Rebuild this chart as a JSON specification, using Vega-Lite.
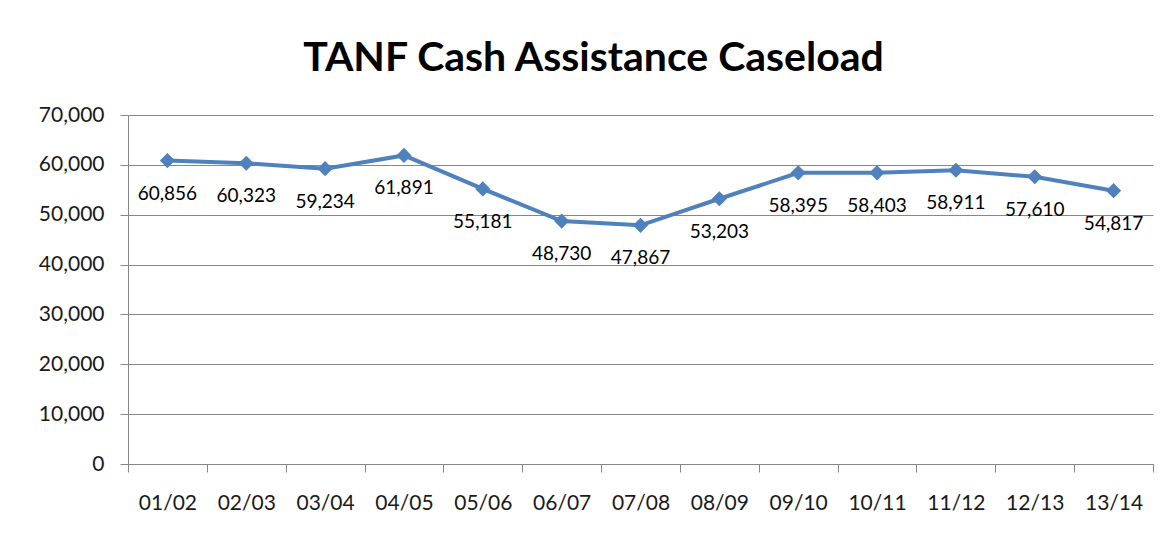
{
  "$schema": "https://vega.github.io/schema/vega-lite/v6.json",
  "width": 1025,
  "height": 349,
  "autosize": {"type": "none"},
  "padding": {"left": 128, "top": 115, "right": 20, "bottom": 75},
  "background": "white",
  "title": {
    "text": "TANF Cash Assistance Caseload",
    "font": "Lato",
    "fontSize": 41,
    "fontWeight": "bold",
    "color": "black",
    "anchor": "middle",
    "dx": -47,
    "offset": 24
  },
  "config": {
    "view": {"stroke": null},
    "font": "Lato"
  },
  "data": {
    "values": [
      {"year": "01/02", "caseload": 60856},
      {"year": "02/03", "caseload": 60323},
      {"year": "03/04", "caseload": 59234},
      {"year": "04/05", "caseload": 61891},
      {"year": "05/06", "caseload": 55181},
      {"year": "06/07", "caseload": 48730},
      {"year": "07/08", "caseload": 47867},
      {"year": "08/09", "caseload": 53203},
      {"year": "09/10", "caseload": 58395},
      {"year": "10/11", "caseload": 58403},
      {"year": "11/12", "caseload": 58911},
      {"year": "12/13", "caseload": 57610},
      {"year": "13/14", "caseload": 54817}
    ]
  },
  "encoding": {
    "x": {
      "field": "year",
      "type": "ordinal",
      "sort": null,
      "scale": {"paddingInner": 0, "paddingOuter": 0},
      "axis": {
        "title": null,
        "labelAngle": 0,
        "labelFont": "Lato",
        "labelFontSize": 21,
        "labelColor": "#1a1a1a",
        "labelPadding": 20,
        "tickBand": "extent",
        "tickSize": 8,
        "tickColor": "#868686",
        "domainColor": "#868686",
        "grid": false
      }
    },
    "y": {
      "field": "caseload",
      "type": "quantitative",
      "scale": {"domain": [0, 70000], "nice": false},
      "axis": {
        "title": null,
        "values": [0, 10000, 20000, 30000, 40000, 50000, 60000, 70000],
        "format": ",d",
        "labelFont": "Lato",
        "labelFontSize": 21,
        "labelColor": "#1a1a1a",
        "labelPadding": 16,
        "tickSize": 8,
        "tickColor": "#868686",
        "domainColor": "#868686",
        "gridColor": "#868686",
        "gridOpacity": 1
      }
    }
  },
  "layer": [
    {
      "mark": {"type": "line", "color": "#4F81BD", "strokeWidth": 4},
      "encoding": {}
    },
    {
      "mark": {"type": "point", "shape": "diamond", "filled": true, "color": "#4F81BD", "size": 230, "opacity": 1},
      "encoding": {}
    },
    {
      "mark": {"type": "text", "dy": 33, "fontSize": 19, "font": "Lato", "color": "black"},
      "encoding": {"text": {"field": "caseload", "type": "quantitative", "format": ",d"}}
    }
  ]
}
